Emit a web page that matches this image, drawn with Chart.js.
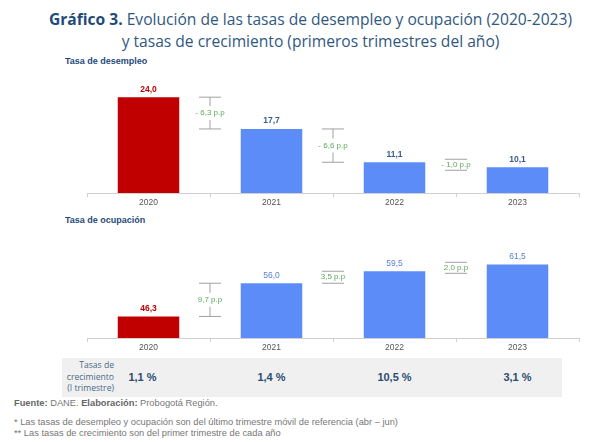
<!DOCTYPE html>
<html>
<head>
<meta charset="utf-8">
<script src="https://cdn.jsdelivr.net/npm/chart.js@4/dist/chart.umd.min.js"></script>
<style>
  body { margin: 0; background: #fff; width: 597px; height: 442px; position: relative; overflow: hidden; font-family: "Liberation Sans", Arial, sans-serif; }
  .title { position: absolute; left: 12px; top: 8px; width: 597px; text-align: center; font-family: "Open Sans", sans-serif; font-size: 15.6px; line-height: 22px; color: #30587f; }
  .title b { color: #1f4b78; }
  .sub { position: absolute; left: 65px; font-size: 9px; font-weight: bold; color: #1f4b78; }
  canvas { position: absolute; left: 0; }
  #tabla { position: absolute; left: 62px; top: 358px; width: 500px; height: 39px; background: #f0f0f0; }
  .lab { position: absolute; right: 448px; top: 2px; text-align: right; font-family: "Open Sans", sans-serif; font-size: 8.6px; line-height: 11.5px; color: #4a6a8a; }
  .val { position: absolute; top: 13px; font-size: 11px; font-weight: bold; color: #2c4c70; transform: translateX(-50%); }
  .foot { position: absolute; left: 14px; font-size: 9.3px; color: #777; }
  .foot b { color: #666; }
</style>
</head>
<body>
<div class="title"><b>Gráfico 3.</b> Evolución de las tasas de desempleo y ocupación (2020-2023)<br>y tasas de crecimiento (primeros trimestres del año)</div>
<div class="sub" style="top:56px">Tasa de desempleo</div>
<div class="sub" style="top:215px">Tasa de ocupación</div>
<div id="tabla">
  <div class="lab">Tasas de<br>crecimiento<br>(I trimestre)</div>
</div>
<canvas id="c1" width="597" height="160" style="top:55px;width:597px;height:160px"></canvas>
<canvas id="c2" width="597" height="145" style="top:215px;width:597px;height:145px"></canvas>
<div class="foot" style="top:398px"><b>Fuente:</b> DANE. <b>Elaboración:</b> Probogotá Región.</div>
<div class="foot" style="top:417px">* Las tasas de desempleo y ocupación son del último trimestre móvil de referencia (abr – jun)</div>
<div class="foot" style="top:428px">** Las tasas de crecimiento son del primer trimestre de cada año</div>
<script>
const years = ['2020', '2021', '2022', '2023'];
const desempleo = [24.0, 17.7, 11.1, 10.1];
const ocupacion = [46.3, 56.0, 59.5, 61.5];
const cambioDesempleo = [-6.3, -6.6, -1.0];
const cambioOcupacion = [9.7, 3.5, 2.0];
const crecimiento = ['1,1 %', '1,4 %', '10,5 %', '3,1 %'];

const rojo = '#c00000';
const azul = '#5b8cf8';
const coma = v => Math.abs(v).toFixed(1).replace('.', ',');

// labels above bars and the p.p brackets between them
const extras = {
  id: 'extras',
  afterDatasetsDraw(chart, args, opts) {
    const ctx = chart.ctx;
    const x = chart.scales.x, y = chart.scales.y;
    const vals = chart.data.datasets[0].data;
    ctx.save();
    ctx.textAlign = 'center';
    ctx.textBaseline = 'middle';
    vals.forEach((v, i) => {
      const px = x.getPixelForValue(i);
      const py = y.getPixelForValue(v);
      ctx.font = (i === 0 || opts.boldAll ? 'bold ' : '') + '8.5px "Liberation Sans", Arial';
      ctx.fillStyle = i === 0 ? rojo : opts.labelColor;
      ctx.fillText(coma(v), px, py - 8);
    });
    opts.cambios.forEach((c, i) => {
      const cx = (x.getPixelForValue(i) + x.getPixelForValue(i + 1)) / 2;
      let y1 = y.getPixelForValue(vals[i]);
      let y2 = y.getPixelForValue(vals[i + 1]);
      let top = Math.min(y1, y2), bot = Math.max(y1, y2);
      const mid = (top + bot) / 2;
      if (bot - top < 11) { top = mid - 5.5; bot = mid + 5.5; }
      const txt = (c < 0 ? '- ' : '') + coma(c) + ' p.p';
      ctx.strokeStyle = '#a0a0a0';
      ctx.lineWidth = 1;
      ctx.beginPath();
      ctx.moveTo(cx - 11, top); ctx.lineTo(cx + 11, top);
      ctx.moveTo(cx - 11, bot); ctx.lineTo(cx + 11, bot);
      if (bot - top > 20) {
        ctx.moveTo(cx, top); ctx.lineTo(cx, mid - 7);
        ctx.moveTo(cx, mid + 7); ctx.lineTo(cx, bot);
      }
      ctx.stroke();
      ctx.font = '8px "Liberation Sans", Arial';
      ctx.fillStyle = '#5aaa5a';
      ctx.fillText(txt, cx, mid);
    });
    ctx.restore();
  }
};

function hacer(id, data, min, max, cambios, labelColor, boldAll) {
  return new Chart(document.getElementById(id), {
    type: 'bar',
    data: {
      labels: years,
      datasets: [{
        data: data,
        backgroundColor: data.map((v, i) => i === 0 ? rojo : azul),
        barPercentage: 0.5,
        categoryPercentage: 1
      }]
    },
    options: {
      responsive: false,
      animation: false,
      layout: { padding: { left: 87, right: 18, top: id === 'c1' ? 22 : 34, bottom: 2 } },
      plugins: {
        legend: { display: false },
        tooltip: { enabled: false },
        extras: { cambios: cambios, labelColor: labelColor, boldAll: boldAll }
      },
      scales: {
        x: {
          grid: { display: true, drawOnChartArea: false, offset: true, tickLength: 4, color: '#d0d0d0' },
          border: { color: '#d0d0d0' },
          ticks: { color: '#555', font: { size: 8.5, family: '"Liberation Sans", Arial' }, padding: 1 },
          afterFit(s) { s.height = 20; }
        },
        y: { display: false, min: min, max: max }
      }
    },
    plugins: [extras]
  });
}

const ch1 = hacer('c1', desempleo, 5, 28, cambioDesempleo, '#3a5a8c', true);
const ch2 = hacer('c2', ocupacion, 40, 66, cambioOcupacion, '#5b80d0', false);

// growth row aligned with the bar centers
const tabla = document.getElementById('tabla');
crecimiento.forEach((t, i) => {
  const d = document.createElement('div');
  d.className = 'val';
  d.textContent = t;
  d.style.left = (ch2.scales.x.getPixelForValue(i) - 62 - (i === 0 ? 6 : 0)) + 'px';
  tabla.appendChild(d);
});
</script>
</body>
</html>
